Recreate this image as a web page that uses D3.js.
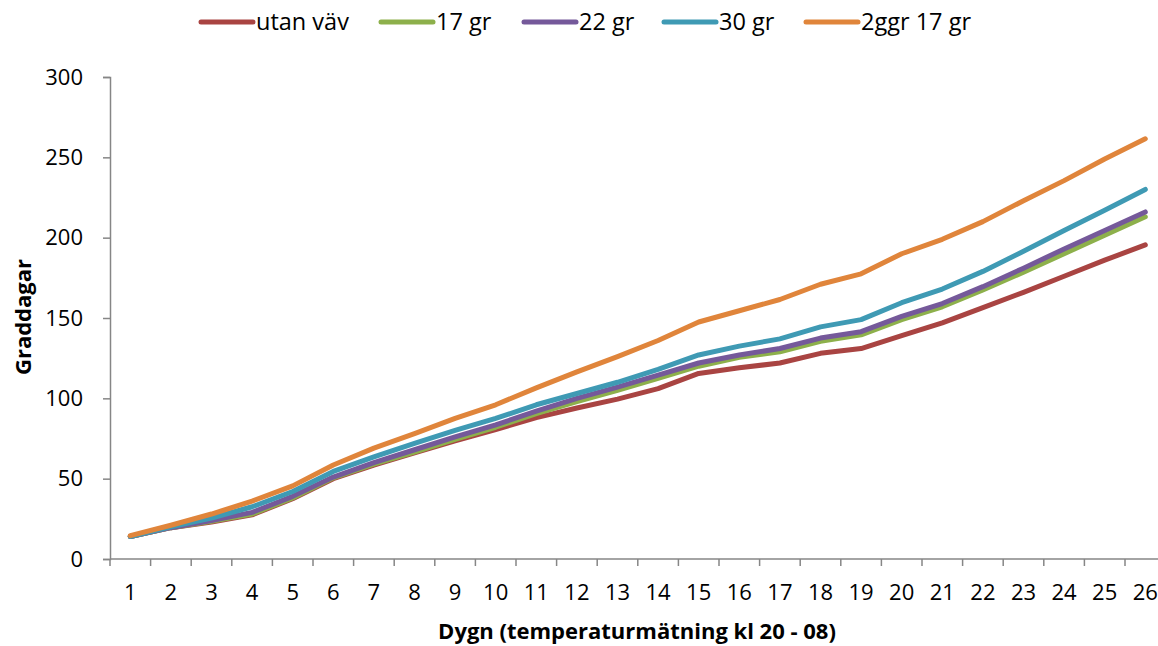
<!DOCTYPE html>
<html>
<head>
<meta charset="utf-8">
<script src="https://cdn.jsdelivr.net/npm/d3@7"></script>
<style>
  html, body { margin: 0; padding: 0; background: #fff; }
  svg { display: block; font-family: "Open Sans", "Noto Sans", sans-serif; }
</style>
</head>
<body>
<svg id="chart" width="1158" height="646"></svg>
<script>
// Day numbers along the x axis
const days = d3.range(1, 27);

// Accumulated degree-days per series
const utanVav = [14, 19.5, 23, 27.5, 37.5, 50, 58.5, 66, 73.5, 80.5, 88, 94, 99.5, 106, 115.5, 119, 122, 128, 131, 139, 147, 156.5, 166, 176, 186, 195.5];
const gr17    = [14, 19.5, 23.5, 28, 38, 50.5, 59, 66.5, 74.5, 82, 90.5, 98, 105, 112.5, 120, 125.5, 129, 135.5, 139.5, 149, 157, 167.5, 178.5, 190, 201.5, 213];
const gr22    = [14, 19.5, 24, 29, 39, 51, 60, 68, 76, 83.5, 92, 100, 107, 114.5, 122, 127, 131, 137.5, 141.5, 151, 159, 169.5, 181, 193, 204.5, 216];
const gr30    = [14, 20, 25.5, 32.5, 42, 54.5, 63.5, 72, 80, 87.5, 96, 103, 110, 118, 127, 132.5, 137, 144.5, 149, 159.5, 168, 179, 191.5, 204.5, 217, 230];
const ggr17   = [14.5, 21, 28, 36, 45.5, 58.5, 69, 78, 87.5, 96, 106.5, 116.5, 126, 136, 147.5, 154.5, 161.5, 171, 177.5, 190, 199, 210, 223, 235.5, 249, 261.5];

const seriesNames = ["utan väv", "17 gr", "22 gr", "30 gr", "2ggr 17 gr"];
const seriesValues = [utanVav, gr17, gr22, gr30, ggr17];
const seriesColors = ["#A94442", "#8DB04B", "#75599A", "#3F9AB4", "#E0853B"];

const yTicks = [0, 50, 100, 150, 200, 250, 300];

const svg = d3.select("#chart");
const plotLeft = 110, plotTop = 77, plotBottom = 559;
const step = 40.6;

const x = d3.scaleBand().domain(days).range([plotLeft, plotLeft + step * days.length]).padding(0);
const y = d3.scaleLinear().domain([0, 300]).range([plotBottom, plotTop]);
const cx = d => x(d) + x.bandwidth() / 2;

const axisColor = "#868686";

// Y axis
const yAxis = svg.append("g")
  .attr("transform", `translate(${plotLeft},0)`)
  .call(d3.axisLeft(y).tickValues(yTicks).tickSize(7).tickPadding(20));
yAxis.select(".domain").attr("stroke", axisColor).attr("stroke-width", 1.5);
yAxis.selectAll(".tick line").attr("stroke", axisColor).attr("stroke-width", 1.5);
yAxis.selectAll(".tick text").attr("font-size", 22).attr("fill", "#000")
  .attr("font-family", "'Open Sans', sans-serif");

// X axis: labels centred in each category
const xAxis = svg.append("g")
  .attr("transform", `translate(0,${plotBottom})`)
  .call(d3.axisBottom(x).tickSize(0).tickPadding(25));
xAxis.select(".domain").remove();
xAxis.selectAll(".tick text").attr("font-size", 22).attr("fill", "#000")
  .attr("font-family", "'Open Sans', sans-serif");

svg.append("line")
  .attr("x1", plotLeft).attr("x2", x.range()[1])
  .attr("y1", plotBottom).attr("y2", plotBottom)
  .attr("stroke", axisColor).attr("stroke-width", 1.5);

// Category boundary tick marks
const boundaries = days.map(d => x(d)).concat([x.range()[1]]);
svg.append("g").selectAll("line").data(boundaries).join("line")
  .attr("x1", d => d).attr("x2", d => d)
  .attr("y1", plotBottom).attr("y2", plotBottom + 7)
  .attr("stroke", axisColor).attr("stroke-width", 1.5);

// Series lines
const line = d3.line().x((v, i) => cx(days[i])).y(v => y(v));
svg.append("g").selectAll("path").data(seriesValues).join("path")
  .attr("d", d => line(d))
  .attr("fill", "none")
  .attr("stroke", (d, i) => seriesColors[i])
  .attr("stroke-width", 5)
  .attr("stroke-linejoin", "round")
  .attr("stroke-linecap", "round");

// Axis titles
svg.append("text")
  .attr("x", 637).attr("y", 639)
  .attr("text-anchor", "middle")
  .attr("font-size", 22).attr("font-weight", "bold")
  .text("Dygn (temperaturmätning kl 20 - 08)");

svg.append("text")
  .attr("transform", `translate(31,317) rotate(-90)`)
  .attr("text-anchor", "middle")
  .attr("font-size", 22).attr("font-weight", "bold")
  .text("Graddagar");

// Legend
const legendX = [201, 381, 524, 664, 806];
const legend = svg.append("g").selectAll("g").data(seriesNames).join("g")
  .attr("transform", (d, i) => `translate(${legendX[i]},22)`);
legend.append("line")
  .attr("x1", 0).attr("x2", 52).attr("y1", 0).attr("y2", 0)
  .attr("stroke", (d, i) => seriesColors[i])
  .attr("stroke-width", 5).attr("stroke-linecap", "round");
legend.append("text")
  .attr("x", 55).attr("y", 8)
  .attr("font-size", 23.5)
  .text(d => d);
</script>
</body>
</html>
